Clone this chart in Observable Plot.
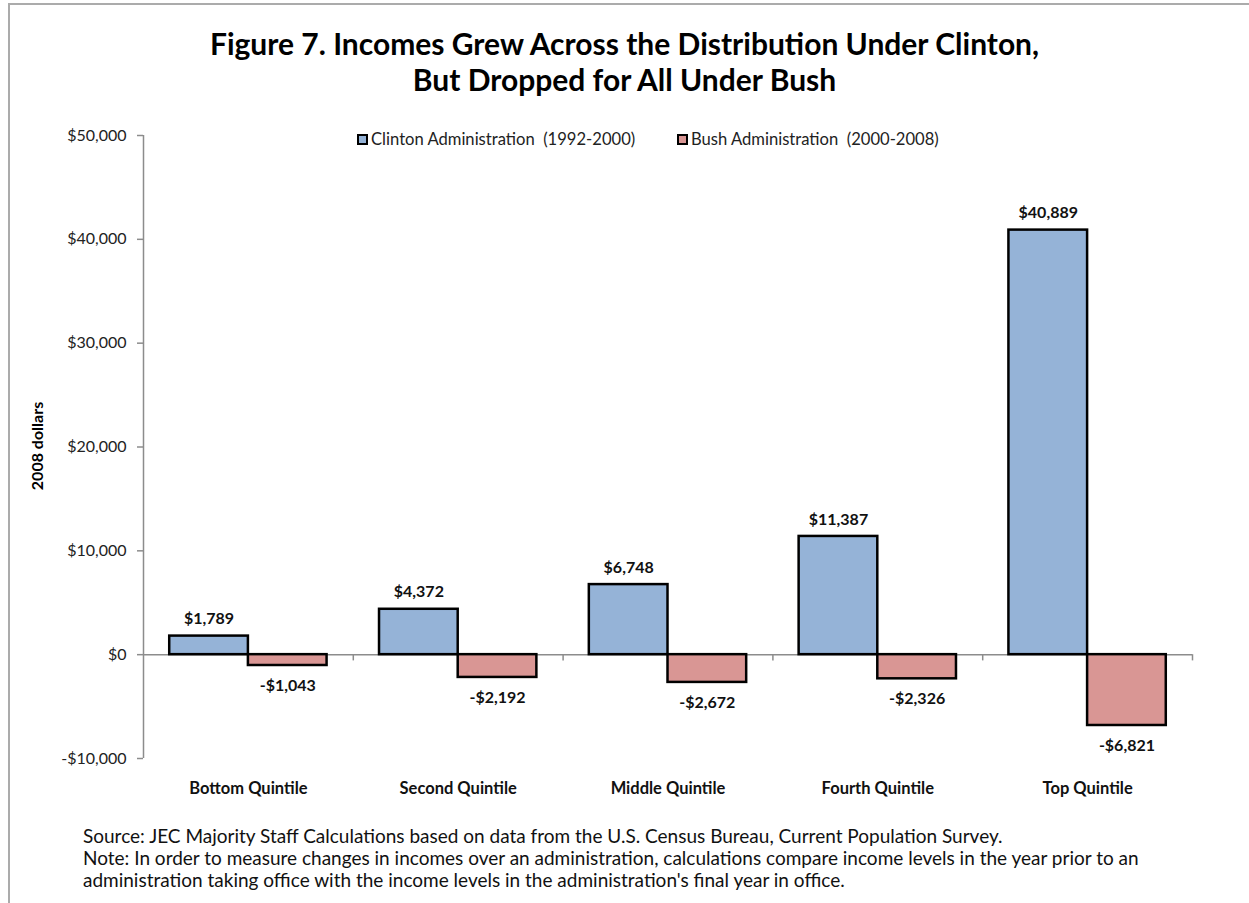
<!DOCTYPE html>
<html>
<head>
<meta charset="utf-8">
<script src="https://cdn.jsdelivr.net/npm/d3@7"></script>
<script src="https://cdn.jsdelivr.net/npm/@observablehq/plot@0.6"></script>
<style>
  html, body { margin: 0; padding: 0; background: #fff; }
  #page { position: relative; width: 1249px; height: 903px; overflow: hidden; font-family: Lato, "Open Sans", sans-serif; color: #111; }
  #frame { position: absolute; left: 8px; top: 3px; width: 1245px; height: 905px; border-top: 2px solid #ababab; border-left: 2px solid #ababab; box-sizing: border-box; }
  #title { position: absolute; left: 0; top: 25px; width: 1249px; text-align: center; font-weight: bold; font-size: 30px; line-height: 36px; color: #000; }
  #chart { position: absolute; left: 0; top: 110px; }
  #legend { position: absolute; top: 130px; left: 357px; font-size: 16.6px; line-height: 18px; color: #222; white-space: pre; }
  #legend .item { position: absolute; top: 0; display: flex; align-items: center; }
  #legend .sw { width: 7px; height: 7px; border: 2px solid #000; margin-right: 3px; }
  #ytitle { position: absolute; left: 36px; top: 446px; transform: translate(-50%, -50%) rotate(-90deg); font-weight: bold; font-size: 16px; color: #000; white-space: nowrap; }
  #footer { position: absolute; left: 83px; top: 825px; font-size: 19px; line-height: 22px; color: #111; white-space: nowrap; }
</style>
</head>
<body>
<div id="page">
  <div id="frame"></div>
  <div id="title"></div>
  <div id="chart"></div>
  <div id="legend"></div>
  <div id="ytitle"></div>
  <div id="footer"></div>
</div>
<script>
const titleLines = ["Figure 7. Incomes Grew Across the Distribution Under Clinton,", "But Dropped for All Under Bush"];
const categories = ["Bottom Quintile", "Second Quintile", "Middle Quintile", "Fourth Quintile", "Top Quintile"];
const seriesNames = ["Clinton Administration  (1992-2000)", "Bush Administration  (2000-2008)"];
const clinton = [1789, 4372, 6748, 11387, 40889];
const bush = [-1043, -2192, -2672, -2326, -6821];
const yTicks = [-10000, 0, 10000, 20000, 30000, 40000, 50000];
const yTitle = "2008 dollars";
const footerLines = [
  "Source: JEC Majority Staff Calculations based on data from the U.S. Census Bureau, Current Population Survey.",
  "Note: In order to measure changes in incomes over an administration, calculations compare income levels in the year prior to an",
  "administration taking office with the income levels in the administration's final year in office."
];
const colors = ["#95B3D7", "#D99694"];

const fmt = d => (d < 0 ? "-" : "") + "$" + d3.format(",")(Math.abs(d));

// layout of bars inside each category slot (fractions of the slot)
const groupStart = 0.125, barFrac = 0.375;
const rows = categories.flatMap((c, i) => [
  {cat: c, i, s: 0, value: clinton[i]},
  {cat: c, i, s: 1, value: bush[i]}
]).map(d => ({...d, x1: d.i + groupStart + barFrac * d.s, x2: d.i + groupStart + barFrac * (d.s + 1)}));

const axisGray = "#8c8c8c";

const chart = Plot.plot({
  width: 1249,
  height: 700,
  marginTop: 25,
  marginBottom: 52,
  marginLeft: 143,
  marginRight: 57,
  style: {fontFamily: "Lato, sans-serif", background: "transparent"},
  x: {domain: [0, categories.length], axis: null},
  y: {domain: [-10000, 50000], axis: null},
  marks: [
    Plot.ruleY([0], {stroke: axisGray, strokeWidth: 1.5}),
    Plot.ruleX(d3.range(1, categories.length + 1), {y1: 0, y2: -600, stroke: axisGray, strokeWidth: 1.5}),
    Plot.ruleX([0], {stroke: axisGray, strokeWidth: 1.5}),
    Plot.rect(rows, {x1: "x1", x2: "x2", y1: 0, y2: "value", fill: d => colors[d.s], stroke: "#000", strokeWidth: 2.5}),
    Plot.axisY({ticks: yTicks, tickFormat: fmt, tickSize: 6, tickPadding: 11, fontSize: 16, stroke: axisGray, strokeWidth: 1.5, fill: "#222", label: null}),
    Plot.axisX({ticks: categories.map((c, i) => i + 0.5), tickFormat: d => categories[Math.floor(d)], tickSize: 0, tickPadding: 24, fontSize: 16.5, fontWeight: "bold", fill: "#111", label: null, anchor: "bottom"}),
    Plot.text(rows.filter(d => d.value >= 0), {x: d => (d.x1 + d.x2) / 2, y: "value", text: d => fmt(d.value), dy: -17, fontSize: 16, fontWeight: "bold", fill: "#111"}),
    Plot.text(rows.filter(d => d.value < 0), {x: d => (d.x1 + d.x2) / 2, y: "value", text: d => fmt(d.value), dy: 20, fontSize: 16, fontWeight: "bold", fill: "#111"})
  ]
});
document.getElementById("chart").appendChild(chart);

document.getElementById("title").innerHTML = titleLines.map(t => `<div>${t}</div>`).join("");
document.getElementById("ytitle").textContent = yTitle;
document.getElementById("footer").innerHTML = footerLines.map(t => `<div>${t}</div>`).join("");

const legendLefts = [0, 320];
const legend = document.getElementById("legend");
seriesNames.forEach((name, k) => {
  const item = document.createElement("div");
  item.className = "item";
  item.style.left = legendLefts[k] + "px";
  item.innerHTML = `<span class="sw" style="background:${colors[k]}"></span><span>${name}</span>`;
  legend.appendChild(item);
});
</script>
</body>
</html>
